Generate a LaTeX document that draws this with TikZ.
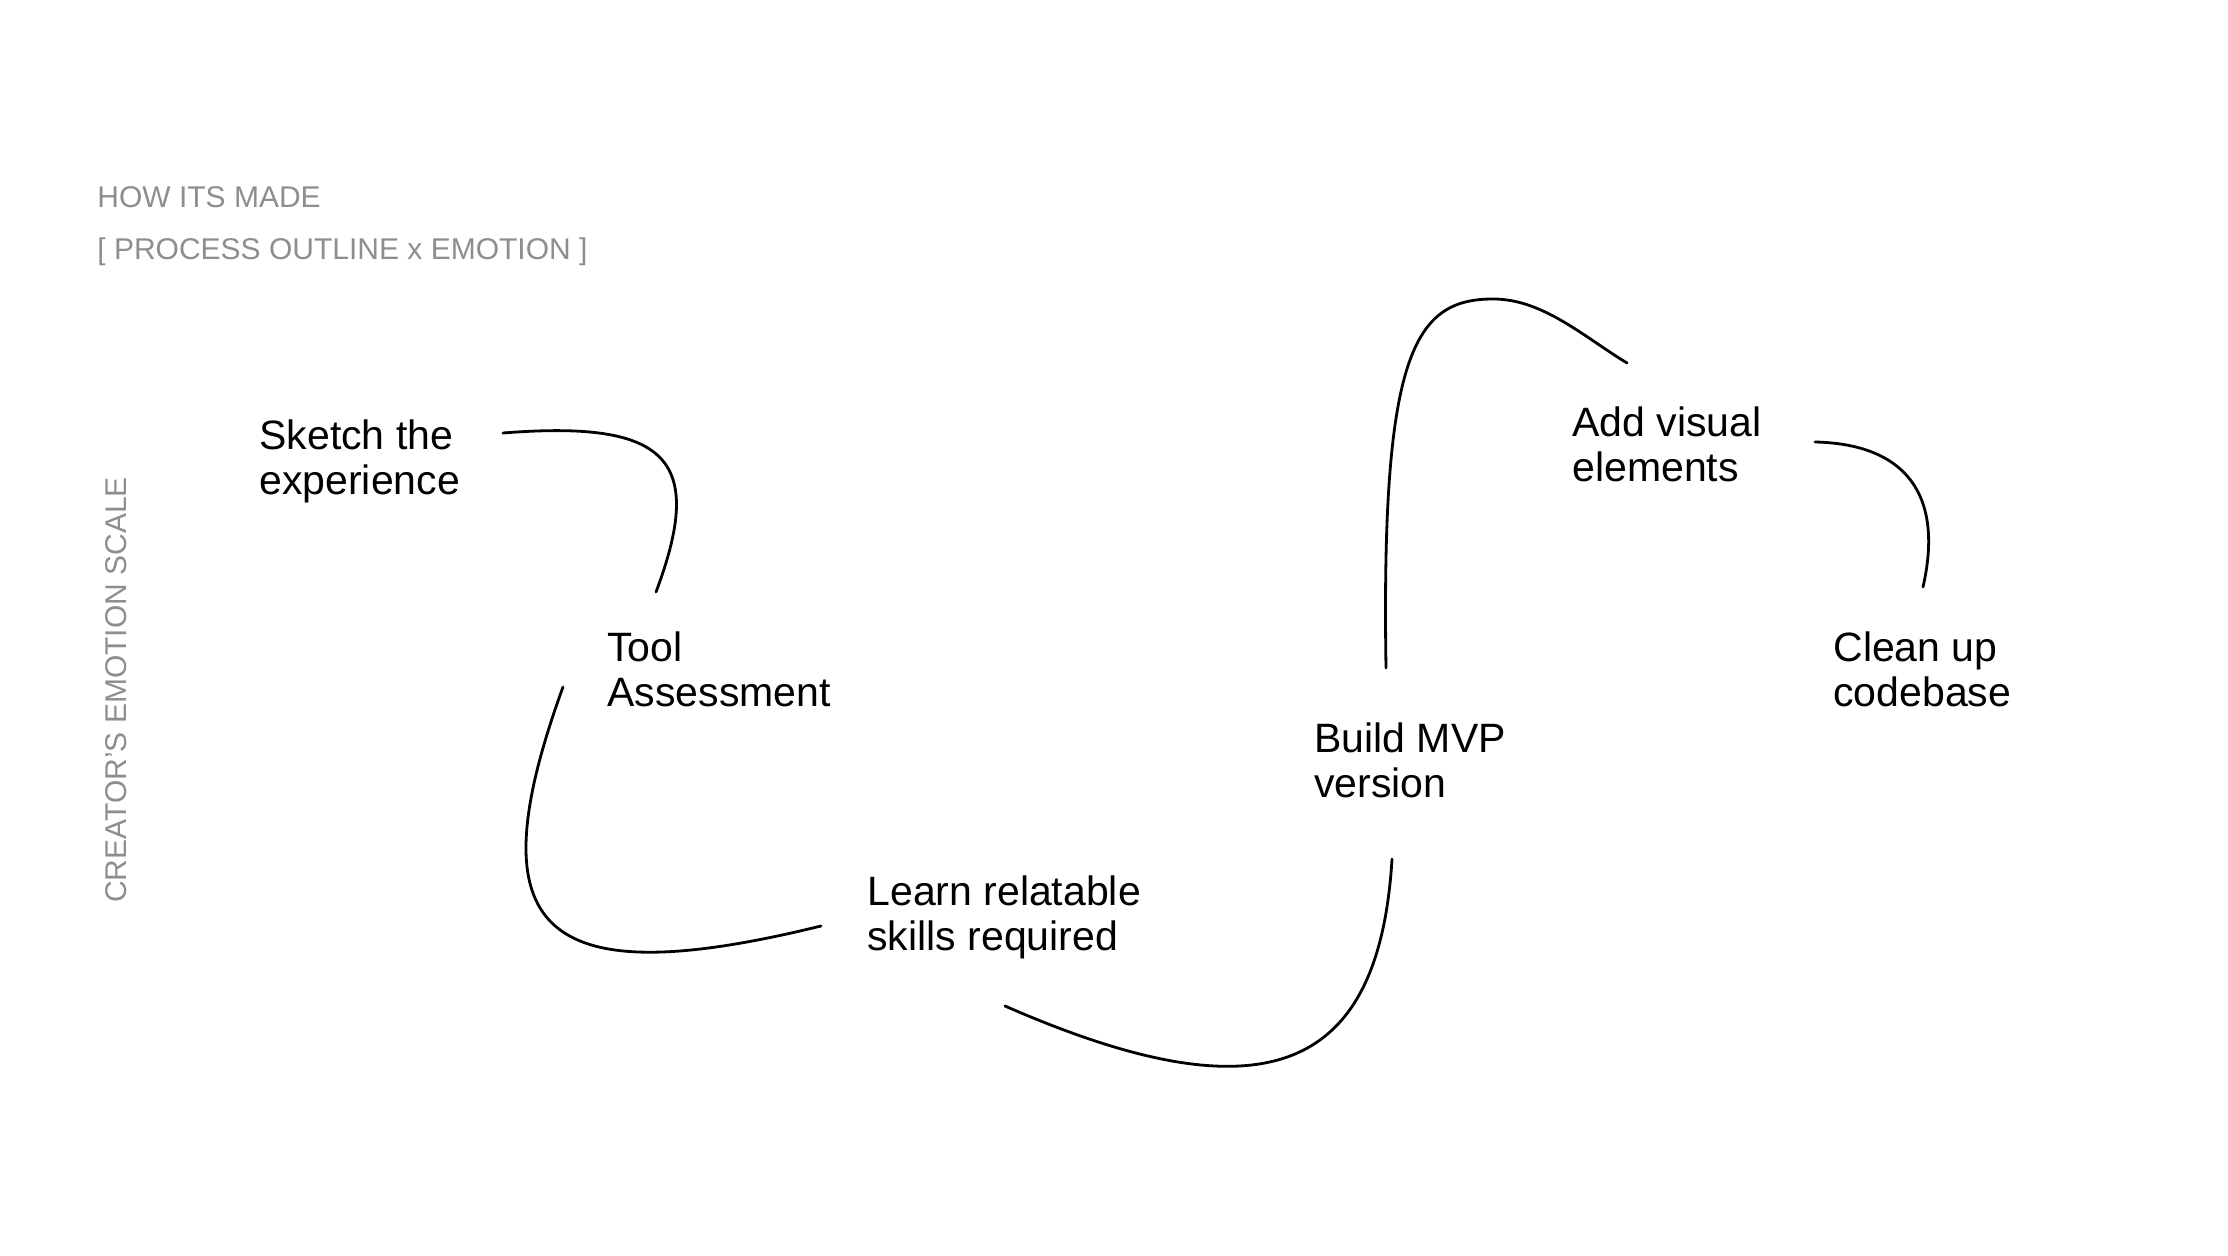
\documentclass[tikz,border=0pt]{standalone}
\usepackage{fontspec}
\setmainfont{Liberation Sans}
\definecolor{labelgray}{RGB}{142,142,142}
\begin{document}
\begin{tikzpicture}[x=0.5pt,y=-0.5pt,
  lbl/.style={font=\fontsize{20.5}{22.5}\selectfont, align=left, inner sep=0pt, anchor=base west},
  hdr/.style={font=\fontsize{15}{26.3}\selectfont, text=labelgray, align=left, inner sep=0pt, anchor=base west},
  conn/.style={line width=1.4pt, line cap=round}]
\path[fill=white] (0,0) rectangle (2228,1256);
\useasboundingbox (0,0) rectangle (2228,1256);

% header (base anchor = baseline of last line)
\node[hdr] (title) at (97,260) {HOW ITS MADE\\{[} PROCESS OUTLINE x EMOTION ]};
\node[font=\fontsize{15}{18}\selectfont, text=labelgray, inner sep=0pt, rotate=90] (axis) at (116,690) {CREATOR’S EMOTION SCALE};

% steps
\node[lbl] (sketch) at (259,495) {Sketch the\\experience};
\node[lbl] (tool) at (607,706) {Tool\\Assessment};
\node[lbl] (learn) at (867,950) {Learn relatable\\skills required};
\node[lbl] (build) at (1314,797) {Build MVP\\version};
\node[lbl] (add) at (1572,482) {Add visual\\elements};
\node[lbl] (clean) at (1833,706) {Clean up\\codebase};

% connector ends
\coordinate (s1) at (503,433);  \coordinate (e1) at (656,592);
\coordinate (s2) at (563,687);  \coordinate (e2) at (821,926);
\coordinate (s3) at (1005,1006); \coordinate (e3) at (1392,859);
\coordinate (s4) at (1386,668); \coordinate (top4) at (1493,299); \coordinate (e4) at (1627,363);
\coordinate (s5) at (1815,442); \coordinate (e5) at (1923,587);

\draw[conn] (s1) .. controls (668,420) and (706,459) .. (e1);
\draw[conn] (s2) .. controls (474,932) and (540,995) .. (e2);
\draw[conn] (s3) .. controls (1263,1119) and (1379,1075) .. (e3);
\draw[conn] (s4) .. controls (1381,354) and (1414,299) .. (top4)
                 .. controls (1543,299) and (1584,337) .. (e4);
\draw[conn] (s5) .. controls (1906,444) and (1944,495) .. (e5);
\end{tikzpicture}
\end{document}
